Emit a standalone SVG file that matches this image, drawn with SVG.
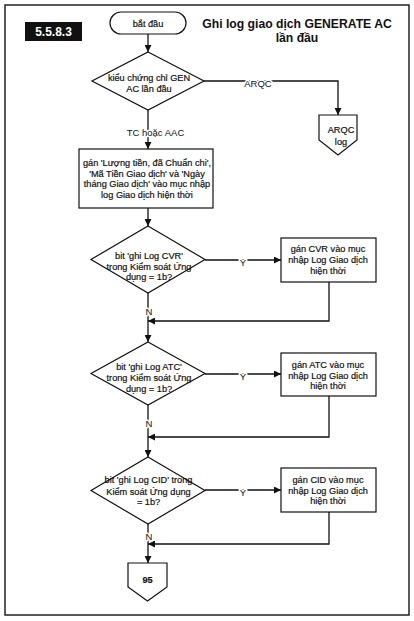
<svg xmlns="http://www.w3.org/2000/svg" width="414" height="621" viewBox="0 0 414 621">
<style>
.shape{fill:#fff;stroke:#111;stroke-width:1.2}
.t{font-family:"Liberation Sans",Arial,sans-serif;font-size:9.2px;fill:#111;stroke:#111;stroke-width:0.2px;text-anchor:middle}
.lbl{font-family:"Liberation Sans",Arial,sans-serif;font-size:9.5px;fill:#111;text-anchor:middle;stroke:#fff;stroke-width:3px;paint-order:stroke;stroke-linejoin:round}
.ln{fill:none;stroke:#111;stroke-width:1.3}
</style>
<defs>
<marker id="ah" viewBox="0 0 10 10" refX="10" refY="5" markerWidth="7" markerHeight="7" markerUnits="userSpaceOnUse" orient="auto">
<path d="M0,0 L10,5 L0,10 z" fill="#111"/>
</marker>
</defs>
<rect x="0" y="0" width="414" height="621" fill="#fff"/>
<rect id="frame" x="5" y="5" width="404" height="610" fill="none" stroke="#222" stroke-width="1.5"/>
<g id="badge">
<rect x="25" y="22" width="57" height="19" fill="#111"/>
<text x="53.5" y="36" font-family="Liberation Sans,Arial,sans-serif" font-size="12px" font-weight="bold" fill="#fff" text-anchor="middle">5.5.8.3</text>
</g>
<g id="title">
<text x="297" y="28" font-family="Liberation Sans,Arial,sans-serif" font-size="12.2px" font-weight="bold" fill="#111" text-anchor="middle">Ghi log giao dịch GENERATE AC</text>
<text x="297" y="41.5" font-family="Liberation Sans,Arial,sans-serif" font-size="12.2px" font-weight="bold" fill="#111" text-anchor="middle">lần đầu</text>
</g>
<g id="connectors">
<path class="ln" d="M148,34 V52" marker-end="url(#ah)"/>
<path class="ln" d="M204,81 H338 V115" marker-end="url(#ah)"/>
<path class="ln" d="M148,110 V149" marker-end="url(#ah)"/>
<path class="ln" d="M148,208 V226" marker-end="url(#ah)"/>
<path class="ln" d="M205,260 H281" marker-end="url(#ah)"/>
<path class="ln" d="M329,282 V321 H148" marker-end="url(#ah)"/>
<path class="ln" d="M148,293 V342" marker-end="url(#ah)"/>
<path class="ln" d="M205,374 H281" marker-end="url(#ah)"/>
<path class="ln" d="M329,396 V437 H148" marker-end="url(#ah)"/>
<path class="ln" d="M148,405 V457" marker-end="url(#ah)"/>
<path class="ln" d="M205,490 H281" marker-end="url(#ah)"/>
<path class="ln" d="M329,512 V544 H148" marker-end="url(#ah)"/>
<path class="ln" d="M148,524 V563" marker-end="url(#ah)"/>
<text class="lbl" x="258" y="86.5">ARQC</text>
<text class="lbl" x="155.5" y="135.5">TC hoặc AAC</text>
<text class="lbl" x="243" y="266">Y</text>
<text class="lbl" x="149" y="315">N</text>
<text class="lbl" x="243" y="380">Y</text>
<text class="lbl" x="149" y="427">N</text>
<text class="lbl" x="243" y="496">Y</text>
<text class="lbl" x="149" y="540">N</text>
</g>
<g id="start">
<rect class="shape" x="110" y="12" width="76" height="22" rx="11"/>
<text class="t" x="148" y="26.5">bắt đầu</text>
</g>
<g id="d1">
<polygon class="shape" points="148,52 204,81 148,110 92,81"/>
<text class="t" x="149" y="81">kiểu chứng chỉ GEN</text>
<text class="t" x="149" y="91.5">AC lần đầu</text>
</g>
<g id="arqc">
<polygon class="shape" points="319,115 357,115 357,140 338,155 319,140"/>
<text class="t" x="341" y="132.5">ARQC</text>
<text class="t" x="341" y="144.5">log</text>
</g>
<g id="p1">
<rect class="shape" x="79" y="149" width="134" height="59"/>
<text class="t" x="147" y="166">gán 'Lượng tiền, đã Chuẩn chi',</text>
<text class="t" x="147" y="176.7">'Mã Tiền Giao dịch' và 'Ngày</text>
<text class="t" x="147" y="187.4">tháng Giao dịch' vào mục nhập</text>
<text class="t" x="147" y="198">log Giao dịch hiện thời</text>
</g>
<g id="d2">
<polygon class="shape" points="148,226 205,259.5 148,293 91,259.5"/>
<text class="t" x="149" y="258.5">bit 'ghi Log CVR'</text>
<text class="t" x="149" y="269.5">trong Kiểm soát Ứng</text>
<text class="t" x="149" y="280">dụng = 1b?</text>
</g>
<g id="p2">
<rect class="shape" x="281" y="238" width="95" height="44"/>
<text class="t" x="328" y="252">gán CVR vào mục</text>
<text class="t" x="328" y="263">nhập Log Giao dịch</text>
<text class="t" x="328" y="274">hiện thời</text>
</g>
<g id="d3">
<polygon class="shape" points="148,342 205,373.5 148,405 91,373.5"/>
<text class="t" x="149" y="370">bit 'ghi Log ATC'</text>
<text class="t" x="149" y="381">trong Kiểm soát Ứng</text>
<text class="t" x="149" y="392">dụng = 1b?</text>
</g>
<g id="p3">
<rect class="shape" x="281" y="353" width="95" height="43"/>
<text class="t" x="328" y="368">gán ATC vào mục</text>
<text class="t" x="328" y="378.5">nhập Log Giao dịch</text>
<text class="t" x="328" y="389">hiện thời</text>
</g>
<g id="d4">
<polygon class="shape" points="148,457 205,490.5 148,524 91,490.5"/>
<text class="t" x="148.5" y="483">bit 'ghi Log CID' trong</text>
<text class="t" x="148.5" y="494.5">Kiểm soát Ứng dụng</text>
<text class="t" x="148.5" y="505">= 1b?</text>
</g>
<g id="p4">
<rect class="shape" x="281" y="468" width="95" height="44"/>
<text class="t" x="328" y="483">gán CID vào mục</text>
<text class="t" x="328" y="493.5">nhập Log Giao dịch</text>
<text class="t" x="328" y="504">hiện thời</text>
</g>
<g id="end95">
<polygon class="shape" points="128,563 167,563 167,587 147.5,601 128,587"/>
<text class="t" x="147.5" y="582.5" font-weight="bold">95</text>
</g>
</svg>
